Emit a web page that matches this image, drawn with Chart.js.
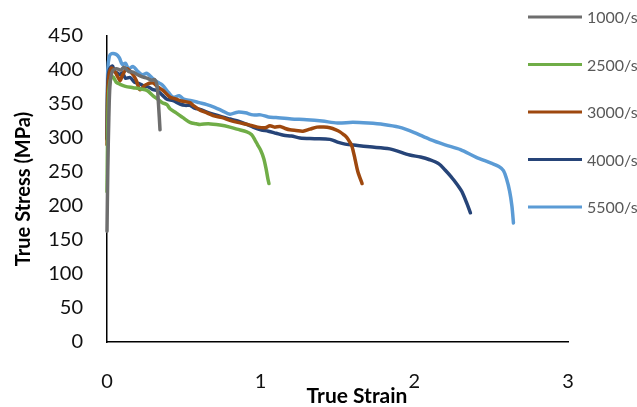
<!DOCTYPE html>
<html>
<head>
<meta charset="utf-8">
<script src="https://cdn.jsdelivr.net/npm/chart.js@4.4.1/dist/chart.umd.min.js"></script>
<style>
  html, body { margin: 0; padding: 0; background: #fff; }
  #wrap { width: 637px; height: 407px; }
</style>
</head>
<body>
<div id="wrap"><canvas id="stressChart" width="637" height="407"></canvas></div>
<script>
// STRAIN RATE SERIES (true strain / true stress in MPa)
const rateLabels = ['1000/s', '2500/s', '3000/s', '4000/s', '5500/s'];
const rateColors = ['#6e6e6e', '#70ad47', '#9e480e', '#264478', '#5b9bd5'];

const strain1000 = [0, 0.005, 0.012, 0.02, 0.035, 0.06, 0.09, 0.11, 0.14, 0.17, 0.2, 0.23, 0.26, 0.29, 0.31, 0.325, 0.335, 0.345];
const stress1000 = [163, 250, 330, 380, 398, 402, 400, 404, 398, 397, 393, 390, 388, 385, 386, 378, 350, 312];

const strain2500 = [0, 0.005, 0.012, 0.025, 0.04, 0.06, 0.085, 0.12, 0.17, 0.22, 0.26, 0.3, 0.325, 0.36, 0.39, 0.41, 0.45, 0.494, 0.54, 0.58, 0.605, 0.66, 0.735, 0.8, 0.846, 0.91, 0.94, 0.963, 0.98, 1.0, 1.02, 1.035, 1.047, 1.054];
const stress2500 = [221, 320, 370, 388, 390, 382, 379, 376, 374, 372, 370, 362, 358, 352, 349, 343, 337, 330, 323, 321, 320, 321, 319, 316, 313, 309, 305, 297, 290, 282, 270, 255, 240, 233];

const strain3000 = [0, 0.005, 0.015, 0.03, 0.05, 0.07, 0.085, 0.1, 0.13, 0.17, 0.19, 0.215, 0.25, 0.3, 0.33, 0.364, 0.41, 0.44, 0.475, 0.54, 0.56, 0.605, 0.65, 0.69, 0.75, 0.8, 0.85, 0.93, 0.98, 1.03, 1.06, 1.09, 1.126, 1.16, 1.19, 1.23, 1.275, 1.32, 1.366, 1.41, 1.45, 1.49, 1.516, 1.54, 1.56, 1.58, 1.594, 1.614, 1.633, 1.66];
const stress3000 = [290, 370, 395, 403, 398, 390, 384, 392, 402, 393, 385, 371, 378, 381, 375, 370, 360, 358, 355, 352, 348, 341, 337, 333, 330, 326, 323, 319, 316, 315, 318, 316, 317, 314, 312, 311, 310, 313, 316, 316, 315, 312, 309, 305, 301, 294, 288, 269, 250, 233];

const strain4000 = [0, 0.005, 0.015, 0.035, 0.05, 0.07, 0.085, 0.1, 0.12, 0.15, 0.18, 0.21, 0.234, 0.27, 0.3, 0.325, 0.36, 0.39, 0.43, 0.475, 0.51, 0.54, 0.57, 0.605, 0.65, 0.69, 0.75, 0.8, 0.85, 0.91, 0.95, 1.0, 1.05, 1.1, 1.15, 1.2, 1.256, 1.35, 1.45, 1.5, 1.55, 1.63, 1.71, 1.84, 1.97, 2.04, 2.1, 2.16, 2.2, 2.24, 2.264, 2.29, 2.31, 2.34, 2.365];
const stress4000 = [298, 380, 400, 406, 398, 395, 393, 396, 388, 389, 382, 380, 377, 375, 371, 370, 363, 357, 355, 350, 348, 348, 344, 342, 338, 335, 331, 328, 325, 320, 316, 312, 310, 307, 304, 303, 300, 299, 298, 294, 291, 289, 287, 284, 275, 272, 268, 262, 253, 243, 236, 228, 221, 205, 190];

const strain5500 = [0, 0.005, 0.015, 0.03, 0.06, 0.08, 0.1, 0.12, 0.14, 0.17, 0.2, 0.23, 0.26, 0.3, 0.33, 0.36, 0.4, 0.43, 0.47, 0.5, 0.55, 0.6, 0.65, 0.7, 0.75, 0.8, 0.85, 0.9, 0.95, 1.0, 1.05, 1.1, 1.2, 1.3, 1.4, 1.5, 1.6, 1.7, 1.8, 1.9, 2.0, 2.1, 2.2, 2.3, 2.4, 2.5, 2.55, 2.58, 2.6, 2.62, 2.635, 2.645];
const stress5500 = [300, 400, 420, 424, 423, 418, 408, 410, 402, 405, 398, 393, 395, 387, 382, 378, 367, 360, 362, 357, 355, 352, 349, 345, 340, 335, 338, 337, 334, 334, 331, 330, 328, 327, 325, 322, 323, 322, 320, 316, 308, 298, 290, 283, 272, 263, 258, 252, 240, 222, 200, 175];

const strainSets = [strain1000, strain2500, strain3000, strain4000, strain5500];
const stressSets = [stress1000, stress2500, stress3000, stress4000, stress5500];

const xTickMax = 3;
const yTickMax = 450;
const yTickStep = 50;

const toPoints = (xs, ys) => xs.map((x, i) => ({ x: x, y: ys[i] }));

// legend on the right and the strain title, drawn by hand
const sideLegend = {
    id: 'sideLegend',
    afterDraw(chart) {
        const c = chart.ctx;
        c.save();
        c.font = '16px Lato';
        c.textBaseline = 'middle';
        c.textAlign = 'left';
        chart.data.datasets.forEach((ds, i) => {
            const y = 17 + i * 47.5;
            c.strokeStyle = ds.borderColor;
            c.lineWidth = 3;
            c.beginPath();
            c.moveTo(528, y);
            c.lineTo(582, y);
            c.stroke();
            c.fillStyle = '#595959';
            c.fillText(ds.label, 587, y + 1);
        });
        c.font = 'bold 21px Lato';
        c.fillStyle = '#000';
        c.textAlign = 'center';
        c.fillText('True Strain', 357, 396);
        c.restore();
    }
};

const ctx = document.getElementById('stressChart').getContext('2d');

const stressChart = new Chart(ctx, {
    type: 'scatter',
    data: {
        datasets: rateLabels.map((label, i) => ({
            label: label,
            data: toPoints(strainSets[i], stressSets[i]),
            showLine: true,
            borderColor: rateColors[i],
            backgroundColor: rateColors[i],
            borderWidth: 3.5,
            pointRadius: 0,
            tension: 0.3,
            borderJoinStyle: 'round',
            borderCapStyle: 'round',
            clip: false,
        })),
    },
    options: {
        responsive: false,
        animation: false,
        devicePixelRatio: 1,
        layout: {
            padding: { left: 0, top: 33, right: 69, bottom: 0 },
        },
        scales: {
            x: {
                type: 'linear',
                min: 0,
                max: xTickMax,
                grid: { display: false, drawTicks: false },
                border: { color: '#000', width: 1.5 },
                ticks: {
                    stepSize: 1,
                    color: '#111',
                    padding: 28,
                    font: { family: 'Lato', size: 20 },
                },
                afterFit: (scale) => { scale.height = 65; },
            },
            y: {
                min: 0,
                max: yTickMax,
                grid: { display: false, drawTicks: false },
                border: { color: '#000', width: 1.5 },
                ticks: {
                    stepSize: yTickStep,
                    color: '#111',
                    padding: 24,
                    font: { family: 'Lato', size: 20 },
                },
                title: {
                    display: true,
                    text: 'True Stress (MPa)',
                    color: '#000',
                    padding: { top: 12, bottom: 0 },
                    font: { family: 'Lato', size: 20, weight: 'bold' },
                },
                afterFit: (scale) => { scale.width = 107; },
            },
        },
        plugins: {
            legend: { display: false },
            tooltip: { enabled: false },
        },
    },
    plugins: [sideLegend],
});
</script>
</body>
</html>
